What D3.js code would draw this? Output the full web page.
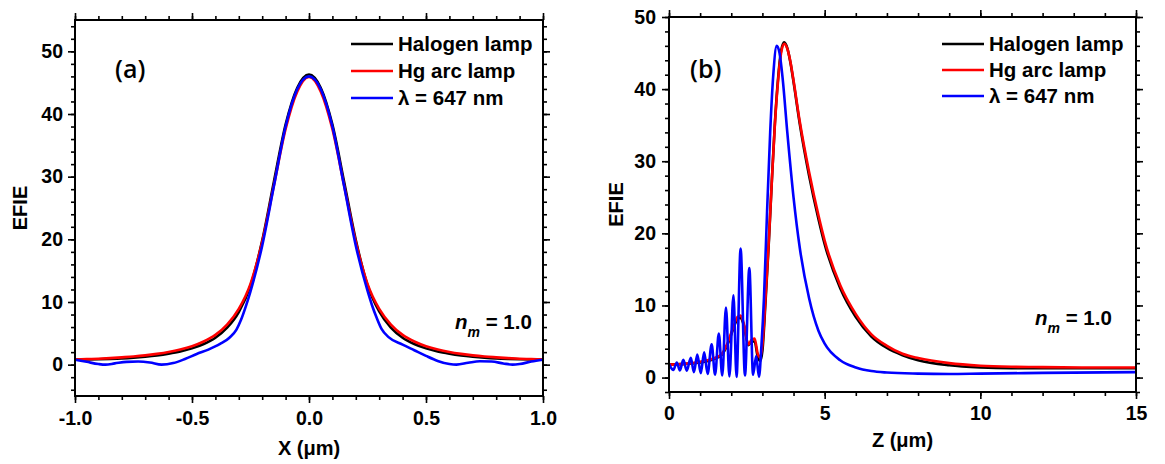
<!DOCTYPE html>
<html>
<head>
<meta charset="utf-8">
<script src="https://cdn.jsdelivr.net/npm/d3@7"></script>
<style>
body { margin: 0; background: #fff; }
svg { display: block; }
</style>
</head>
<body>
<svg id="canvas" width="1165" height="464"></svg>
<script>
// ---- panel (a) data : EFIE vs X (um)
var xA = [-1.0, -0.95, -0.9, -0.85, -0.8, -0.75, -0.7, -0.65, -0.6, -0.55, -0.5, -0.45, -0.4, -0.35, -0.3, -0.25, -0.2, -0.15, -0.1, -0.05,
	0, 0.05, 0.1, 0.15, 0.2, 0.25, 0.3, 0.35, 0.4, 0.45, 0.5, 0.55, 0.6, 0.65, 0.7, 0.75, 0.8, 0.85, 0.9, 0.95, 1.0];
var halogenA = [0.8, 0.82, 0.86, 0.92, 1.0, 1.12, 1.28, 1.48, 1.75, 2.1, 2.6, 3.3, 4.3, 5.9, 8.4, 12.6, 19.8, 29.2, 38.3, 44.2,
	46.3, 44.2, 38.3, 29.2, 19.9, 12.7, 8.5, 5.9, 4.3, 3.3, 2.6, 2.1, 1.75, 1.48, 1.28, 1.12, 1.0, 0.92, 0.86, 0.82, 0.8];
var hgA = [0.8, 0.88, 0.95, 1.05, 1.17, 1.3, 1.48, 1.72, 2.02, 2.42, 2.95, 3.7, 4.75, 6.4, 8.9, 12.9, 19.6, 28.6, 37.6, 43.6,
	45.9, 43.6, 37.6, 28.6, 19.6, 12.9, 8.9, 6.4, 4.75, 3.7, 2.95, 2.42, 2.02, 1.72, 1.48, 1.3, 1.17, 1.05, 0.95, 0.88, 0.8];
var xBlueA = [-1.0, -0.95, -0.9, -0.87, -0.83, -0.78, -0.73, -0.68, -0.63, -0.58, -0.53, -0.48, -0.43, -0.38, -0.34, -0.31, -0.29, -0.27, -0.25, -0.2, -0.15, -0.1, -0.05,
	0, 0.05, 0.1, 0.15, 0.2, 0.25, 0.27, 0.29, 0.31, 0.34, 0.4, 0.45, 0.5, 0.55, 0.6, 0.63, 0.68, 0.73, 0.78, 0.83, 0.87, 0.9, 0.95, 1.0];
var blueA = [0.8, 0.45, 0.1, 0.0, 0.2, 0.45, 0.5, 0.35, 0.0, 0.25, 0.9, 1.7, 2.4, 3.3, 4.3, 5.6, 7.2, 9.3, 11.7, 19.0, 28.5, 38.0, 44.0,
	46.0, 44.0, 38.0, 28.5, 19.0, 11.8, 9.4, 7.4, 5.7, 4.4, 3.2, 2.3, 1.4, 0.6, 0.1, 0.0, 0.3, 0.55, 0.5, 0.2, 0.0, 0.1, 0.5, 0.8];

// ---- panel (b) data : EFIE vs Z (um)
var zB = [0, 0.5, 1.0, 1.4, 1.7, 1.9, 2.05, 2.2, 2.3, 2.4, 2.55, 2.65, 2.75, 2.85, 2.93, 3.0, 3.1, 3.2, 3.3, 3.4, 3.5, 3.6, 3.7, 3.8, 3.9,
	4.0, 4.2, 4.5, 4.8, 5.0, 5.5, 6.0, 6.5, 7.0, 7.5, 8.0, 9.0, 10, 11, 12, 13.5, 15];
var halogenB = [1.8, 1.9, 2.1, 2.5, 3.2, 4.8, 6.6, 8.1, 8.3, 7.3, 4.5, 5.0, 5.0, 2.9, 2.3, 3.7, 10.5, 18.2, 27, 35.2, 41.3, 45.3, 46.5, 45.7, 43.7,
	41, 35.2, 28.0, 22.0, 18.5, 12.4, 8.4, 5.7, 4.1, 3.1, 2.4, 1.7, 1.4, 1.3, 1.3, 1.3, 1.3];
var hgB = [1.8, 1.9, 2.2, 2.6, 3.3, 5.0, 6.8, 8.4, 8.6, 7.5, 4.6, 5.2, 5.4, 3.3, 2.8, 4.5, 11, 18.5, 27, 35, 41, 45, 46.3, 45.6, 43.8,
	41.2, 35.5, 28.5, 22.5, 19.0, 12.8, 8.8, 6.0, 4.4, 3.3, 2.7, 2.0, 1.65, 1.5, 1.45, 1.4, 1.4];
var zBlueB = [0, 0.14, 0.25, 0.35, 0.46, 0.57, 0.7, 0.8, 0.91, 1.02, 1.13, 1.24, 1.37, 1.48, 1.6, 1.71, 1.83, 1.94, 2.07, 2.17, 2.3, 2.44, 2.58, 2.7, 2.8, 2.89,
	2.97, 3.05, 3.15, 3.25, 3.35, 3.46, 3.55, 3.65, 3.8, 4.0, 4.2, 4.5, 4.8, 5.0, 5.5, 6.0, 6.5, 7, 8, 9, 10, 12, 15];
var blueB = [1.9, 1.05, 2.1, 1.0, 2.45, 0.95, 2.75, 0.75, 3.2, 0.6, 3.5, 0.5, 4.6, 0.4, 6.1, 0.3, 9.7, 0.15, 11.4, 0.1, 17.9, 0.3, 15.2, 0.4, 3.0, 0.1,
	4.5, 11, 23, 34, 42, 46, 45, 41.5, 34, 25, 18, 11, 6.5, 4.7, 2.4, 1.4, 0.9, 0.7, 0.55, 0.5, 0.55, 0.65, 0.75];

var seriesNames = ["Halogen lamp", "Hg arc lamp", "\u03bb = 647 nm"];
var seriesColors = ["#000000", "#ff0000", "#0000ff"];

var ticksA = { xMajor: [-1, -0.5, 0, 0.5, 1], xMinor: d3.range(-10, 11).map(function(v){ return v / 10; }),
	yMajor: [0, 10, 20, 30, 40, 50], yMinor: d3.range(-4, 55, 2) };
var ticksB = { xMajor: [0, 5, 10, 15], xMinor: d3.range(0, 16),
	yMajor: [0, 10, 20, 30, 40, 50], yMinor: d3.range(-2, 51, 2) };

var svg = d3.select("#canvas");
var FONT = "'Liberation Sans', Arial, sans-serif";

function plainMinus(fmt){
	return function(v){ return fmt(v).replace("\u2212", "-"); };
}

function drawPanel(p){
	var x = d3.scaleLinear().domain(p.xDomain).range([p.left, p.right]);
	var y = d3.scaleLinear().domain(p.yDomain).range([p.bottom, p.top]);
	var g = svg.append("g");

	// minor ticks on all four sides
	g.append("g").attr("transform", "translate(0," + p.bottom + ")")
		.call(d3.axisBottom(x).tickValues(p.ticks.xMinor).tickSize(4).tickFormat(""));
	g.append("g").attr("transform", "translate(0," + p.top + ")")
		.call(d3.axisTop(x).tickValues(p.ticks.xMinor).tickSize(4).tickFormat(""));
	g.append("g").attr("transform", "translate(" + p.left + ",0)")
		.call(d3.axisLeft(y).tickValues(p.ticks.yMinor).tickSize(4).tickFormat(""));
	g.append("g").attr("transform", "translate(" + p.right + ",0)")
		.call(d3.axisRight(y).tickValues(p.ticks.yMinor).tickSize(4).tickFormat(""));

	// major ticks with labels
	g.append("g").attr("transform", "translate(0," + p.bottom + ")")
		.call(d3.axisBottom(x).tickValues(p.ticks.xMajor).tickSize(7).tickPadding(p.xPad).tickFormat(plainMinus(p.xFmt)));
	g.append("g").attr("transform", "translate(" + p.left + ",0)")
		.call(d3.axisLeft(y).tickValues(p.ticks.yMajor).tickSize(7).tickPadding(p.yPad).tickFormat(d3.format("d")));
	g.append("g").attr("transform", "translate(0," + p.top + ")")
		.call(d3.axisTop(x).tickValues(p.ticks.xMajor).tickSize(7).tickFormat(""));
	g.append("g").attr("transform", "translate(" + p.right + ",0)")
		.call(d3.axisRight(y).tickValues(p.ticks.yMajor).tickSize(7).tickFormat(""));

	g.selectAll(".domain").remove();
	g.selectAll(".tick line").attr("stroke", "#000").attr("stroke-width", 1.6);
	g.selectAll(".tick text").attr("fill", "#000")
		.style("font-family", FONT).style("font-weight", "bold").style("font-size", "19.5px");

	// lines
	var clipId = "clip" + p.id;
	svg.append("clipPath").attr("id", clipId).append("rect")
		.attr("x", p.left).attr("y", p.top).attr("width", p.right - p.left).attr("height", p.bottom - p.top);
	var lines = g.append("g").attr("clip-path", "url(#" + clipId + ")");
	var line = d3.line()
		.x(function(d){ return x(d[0]); })
		.y(function(d){ return y(d[1]); })
		.curve(d3.curveMonotoneX);
	p.series.forEach(function(s, i){
		var pts = s.xs.map(function(v, k){ return [v, s.ys[k]]; });
		lines.append("path")
			.attr("d", line(pts))
			.attr("style", "fill: none; stroke: " + seriesColors[i] + "; stroke-width: 2.6; stroke-linejoin: round;");
	});

	// frame
	g.append("rect")
		.attr("x", p.left).attr("y", p.top)
		.attr("width", p.right - p.left).attr("height", p.bottom - p.top)
		.attr("style", "fill: none; stroke: black; stroke-width: 2;");

	// axis titles
	g.append("text")
		.attr("transform", "translate(" + p.yTitleX + "," + ((p.top + p.bottom) / 2) + ") rotate(-90)")
		.attr("text-anchor", "middle")
		.attr("style", "font-family: " + FONT + "; font-weight: bold; font-size: 20px;")
		.text("EFIE");
	g.append("text")
		.attr("x", (p.left + p.right) / 2).attr("y", p.xTitleY)
		.attr("text-anchor", "middle")
		.attr("style", "font-family: " + FONT + "; font-weight: bold; font-size: 20px;")
		.text(p.xTitle);

	// panel letter
	g.append("text")
		.attr("x", p.tagX).attr("y", 78)
		.attr("style", "font-family: 'Open Sans', sans-serif; font-weight: 600; font-size: 25px;")
		.text(p.tag);

	// legend
	var lg = g.append("g");
	seriesNames.forEach(function(name, i){
		var ly = p.legendY[i];
		lg.append("line")
			.attr("x1", p.legendX).attr("x2", p.legendX + 42)
			.attr("y1", ly).attr("y2", ly)
			.attr("style", "stroke: " + seriesColors[i] + "; stroke-width: 2.6;");
		lg.append("text")
			.attr("x", p.legendX + 47).attr("y", ly + 7)
			.attr("style", "font-family: " + FONT + "; font-weight: bold; font-size: 20.5px;")
			.text(name);
	});

	// n_m = 1.0
	var nm = g.append("text")
		.attr("x", p.nmX).attr("y", p.nmY)
		.attr("style", "font-family: " + FONT + "; font-weight: bold; font-size: 20.5px;");
	nm.append("tspan").attr("font-style", "italic").text("n");
	nm.append("tspan").attr("font-style", "italic").attr("font-size", "14px").attr("dy", 8).text("m");
	nm.append("tspan").attr("dy", -8).text(" = 1.0");
}

drawPanel({
	id: "a", left: 75, right: 543, top: 20, bottom: 396,
	xDomain: [-1, 1], yDomain: [-5, 55], ticks: ticksA,
	xFmt: d3.format(".1f"), xPad: 8, yPad: 5,
	yTitleX: 27, xTitle: "X (\u03bcm)", xTitleY: 455,
	tag: "(a)", tagX: 115,
	legendX: 351, legendY: [44, 71, 98],
	nmX: 455, nmY: 329,
	series: [{ xs: xA, ys: halogenA }, { xs: xA, ys: hgA }, { xs: xBlueA, ys: blueA }]
});

drawPanel({
	id: "b", left: 669, right: 1136, top: 17, bottom: 392,
	xDomain: [0, 15], yDomain: [-2, 50], ticks: ticksB,
	xFmt: d3.format("d"), xPad: 7, yPad: 6,
	yTitleX: 623, xTitle: "Z (\u03bcm)", xTitleY: 447,
	tag: "(b)", tagX: 690,
	legendX: 942, legendY: [44, 70, 96],
	nmX: 1035, nmY: 325,
	series: [{ xs: zB, ys: halogenB }, { xs: zB, ys: hgB }, { xs: zBlueB, ys: blueB }]
});
</script>
</body>
</html>
